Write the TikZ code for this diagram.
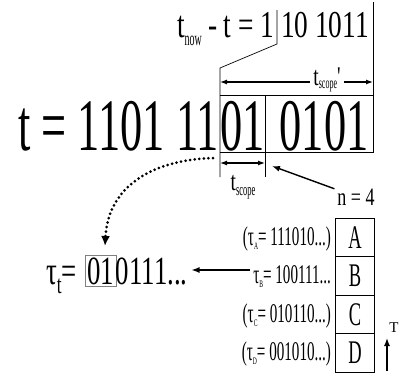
\documentclass[tikz,border=0pt]{standalone}
\usepackage{fontspec}
\setmainfont{Liberation Serif}
\newfontfamily\cA{Liberation Serif}[FakeStretch=0.6]
\newfontfamily\cB{Liberation Serif}[FakeStretch=0.67]
\newfontfamily\cC{Liberation Serif}[FakeStretch=0.72]
\newfontfamily\cD{Liberation Serif}[FakeStretch=0.56]
\newfontfamily\cE{Liberation Serif}[FakeStretch=0.5]
\usetikzlibrary{arrows.meta}
\newcommand{\fs}[1]{\fontsize{#1}{#1}\selectfont}
\newcommand{\lowsub}[3]{\raisebox{#1}{\fs{#2}#3}}
\begin{document}
\begin{tikzpicture}[x=1pt,y=-1pt,
  txt/.style={inner sep=0pt, outer sep=0pt},
  ln/.style={line width=0.7pt},
  arr/.style={line width=1.4pt, -{Latex[length=8pt,width=6pt]}},
  darr/.style={line width=1.2pt, {Latex[length=7pt,width=5pt]}-{Latex[length=7pt,width=5pt]}},
  cell/.style={draw, line width=0.7pt, minimum width=39pt, minimum height=38.5pt, inner sep=0pt},
  rowlab/.style={txt, anchor=base east},
]
\useasboundingbox (0,0) rectangle (400,375);

% top line
\node[txt, anchor=base east] (topL) at (274,37) {\cC\fs{38}t\lowsub{-8pt}{20}{\cE now}\,-\,t = 1};
\node[txt, anchor=base west] (topR) at (281,37) {\cC\fs{38}10 1011};

% big line
\node[txt, anchor=base east] (bigL) at (219,150) {\cA\fs{74}t = 1101 11};
\node[txt, anchor=base] (big01) at (242.5,150) {\cA\fs{74}01};
\node[txt, anchor=base] (bigR) at (324,150) {\cA\fs{74}0101};

% frame lines
\coordinate (vt) at (277,10);
\coordinate (vb) at (277,44);
\coordinate (dg) at (220,68);
\coordinate (bl) at (220,177);
\coordinate (rt) at (373,2);
\coordinate (br) at (373,152);
\coordinate (bbl) at (220,152);
\coordinate (btl) at (220,95);
\coordinate (btr) at (373,95);
\coordinate (mt) at (265,95);
\coordinate (mb) at (265,177);
\draw[ln] (vt) -- (vb) -- (dg) -- (bl);
\draw[ln] (rt) -- (br) -- (bbl);
\draw[ln] (btl) -- (btr);
\draw[ln] (mt) -- (mb);

% t_scope' arrow
\coordinate (sp1) at (220,82);
\coordinate (sp2) at (373,82);
\draw[darr] (sp1) -- (sp2);
\node[txt, fill=white, inner xsep=3pt, inner ysep=0pt] (tsp) at (327,80) {\cC\fs{27}t\lowsub{-3.5pt}{16}{\cE scope}'};

% t_scope arrow
\coordinate (s1) at (220,163);
\coordinate (s2) at (265,163);
\draw[darr] (s1) -- (s2);
\node[txt] (ts) at (243,187) {\cC\fs{27}t\lowsub{-5pt}{17}{\cE scope}};

% n = 4
\node[txt] (n4) at (356,197) {\cC\fs{25}n = 4};
\coordinate (ntip) at (272,166);
\draw[arr] ([xshift=-3pt]n4.north west) -- (ntip);

% tau_t line
\node[txt, anchor=base west] (taut) at (46,284) {\cB\fs{40}τ\lowsub{-9pt}{26}{t}=};
\node[txt, anchor=base west, draw=gray, line width=0.6pt, inner sep=2pt] (t01) at (85,284) {\cB\fs{40}01};
\node[txt, anchor=base west] (trest) at (t01.base east) {\cB\fs{40}0111...};

% dotted curve
\coordinate (ds) at (213,158);
\coordinate (de) at (105,246);
\draw[line width=3pt, line cap=round, dash pattern=on 0pt off 4.6pt, -{Latex[length=10pt,width=9pt]}] (ds) .. controls (150,160) and (108,188) .. (de);

% cells
\node[cell] (A) at (355,237.5) {\cD\fs{33}A};
\node[cell] (B) at (355,276) {\cD\fs{33}B};
\node[cell] (C) at (355,314.5) {\cD\fs{33}C};
\node[cell] (D) at (355,353) {\cD\fs{33}D};

% row labels
\node[rowlab] (lA) at (331,245) {\cD\fs{27}(τ\lowsub{-4pt}{10}{A}= 111010...)};
\node[rowlab] (lB) at (331,283.5) {\cD\fs{27}τ\lowsub{-4pt}{10}{B}= 100111...};
\node[rowlab] (lC) at (331,322) {\cD\fs{27}(τ\lowsub{-4pt}{10}{C}= 010110...)};
\node[rowlab] (lD) at (331,360.5) {\cD\fs{27}(τ\lowsub{-4pt}{10}{D}= 001010...)};

% arrow from tau_B to tau_t
\draw[arr] ([xshift=-3pt]lB.west |- 0,270) -- ([xshift=4pt]trest.east |- 0,270);

% T arrow
\coordinate (Tb) at (387,371);
\coordinate (Tt) at (387,338);
\draw[arr] (Tb) -- (Tt);
\node[txt] (Tl) at (394,328) {\fs{15}T};
\end{tikzpicture}
\end{document}
